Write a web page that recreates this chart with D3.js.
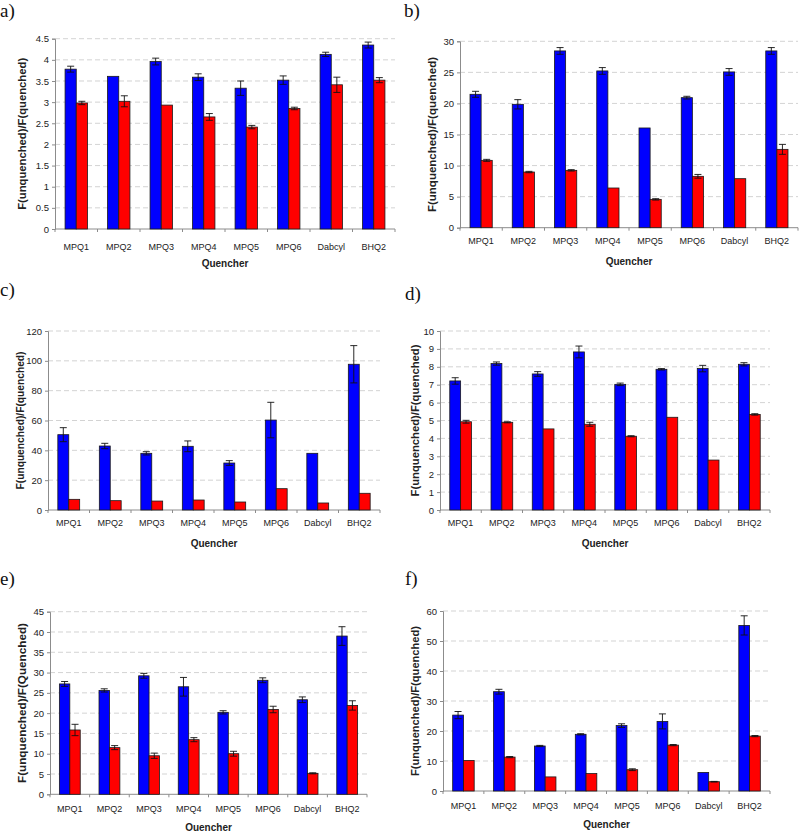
<!DOCTYPE html>
<html>
<head>
<meta charset="utf-8">
<script src="https://cdn.jsdelivr.net/npm/d3@7"></script>
<style>
body { margin: 0; background: #fff; }
svg { display: block; }
</style>
</head>
<body>
<svg id="chart" width="800" height="831"></svg>
<script>
const categories = ["MPQ1", "MPQ2", "MPQ3", "MPQ4", "MPQ5", "MPQ6", "Dabcyl", "BHQ2"];

const aBlue = [3.78, 3.61, 3.96, 3.59, 3.33, 3.52, 4.13, 4.35];
const aBlueErr = [0.07, 0.0, 0.08, 0.08, 0.17, 0.10, 0.05, 0.07];
const aRed = [2.98, 3.02, 2.93, 2.65, 2.41, 2.85, 3.41, 3.52];
const aRedErr = [0.04, 0.13, 0.0, 0.08, 0.04, 0.03, 0.18, 0.06];

const bBlue = [21.47, 19.86, 28.45, 25.23, 16.05, 20.93, 25.07, 28.45];
const bBlueErr = [0.48, 0.75, 0.54, 0.54, 0.0, 0.22, 0.54, 0.54];
const bRed = [10.84, 8.96, 9.23, 6.39, 4.56, 8.27, 7.89, 12.61];
const bRedErr = [0.16, 0.11, 0.11, 0.0, 0.11, 0.3, 0.0, 0.8];

const cBlue = [50.5, 42.9, 38.0, 42.7, 31.5, 60.3, 38.0, 97.7];
const cBlueErr = [4.7, 1.8, 1.1, 3.6, 1.6, 11.9, 0.0, 12.5];
const cRed = [7.15, 6.26, 6.0, 6.7, 5.36, 14.3, 4.7, 11.2];
const cRedErr = [0, 0, 0, 0, 0, 0, 0, 0];

const dBlue = [7.21, 8.18, 7.60, 8.83, 7.02, 7.86, 7.90, 8.14];
const dBlueErr = [0.18, 0.09, 0.13, 0.33, 0.07, 0.04, 0.18, 0.09];
const dRed = [4.93, 4.90, 4.53, 4.79, 4.12, 5.18, 2.79, 5.34];
const dRedErr = [0.08, 0.03, 0.0, 0.11, 0.03, 0.0, 0.0, 0.04];

const eBlue = [27.2, 25.6, 29.2, 26.5, 20.2, 28.1, 23.3, 39.0];
const eBlueErr = [0.6, 0.4, 0.6, 2.3, 0.4, 0.6, 0.7, 2.3];
const eRed = [15.85, 11.5, 9.5, 13.46, 10.0, 20.9, 5.17, 21.9];
const eRedErr = [1.4, 0.5, 0.65, 0.5, 0.6, 0.8, 0.13, 1.15];

const fBlue = [25.3, 33.1, 15.0, 18.9, 21.8, 23.2, 6.2, 55.2];
const fBlueErr = [1.2, 0.8, 0.2, 0.2, 0.6, 2.5, 0.0, 3.2];
const fRed = [10.2, 11.3, 4.7, 5.8, 7.1, 15.3, 3.1, 18.3];
const fRedErr = [0.0, 0.2, 0.0, 0.0, 0.3, 0.2, 0.1, 0.2];

const yTitles = ["F(unquenched)/F(quenched)", "F(unquenched)/F(quenched)", "F(unquenched)/F(quenched)",
                 "F(unquenched)/F(quenched)", "F(unquenched)/F(Quenched)", "F(unquenched)/F(quenched)"];
const panelLetters = ["a)", "b)", "c)", "d)", "e)", "f)"];
const yMaxes = [4.5, 30, 120, 10, 45, 60];
const ySteps = [0.5, 5, 20, 1, 5, 10];
const xTitle = "Quencher";

const seriesData = [
  [aBlue, aBlueErr, aRed, aRedErr],
  [bBlue, bBlueErr, bRed, bRedErr],
  [cBlue, cBlueErr, cRed, cRedErr],
  [dBlue, dBlueErr, dRed, dRedErr],
  [eBlue, eBlueErr, eRed, eRedErr],
  [fBlue, fBlueErr, fRed, fRedErr]
];

// Layout (pixels)
const layouts = [
  {x0: 55, x1: 395, yTop: 38.7, yBot: 229, letterX: 0, letterY: 17, labY: 247, qY: 263, tX: 22, tLen: 152},
  {x0: 460, x1: 798, yTop: 41.3, yBot: 227.7, letterX: 404, letterY: 17, labY: 241, qY: 261, tX: 432, tLen: 155},
  {x0: 48, x1: 380, yTop: 331, yBot: 510, letterX: 0, letterY: 296, labY: 523, qY: 543, tX: 20, tLen: 138},
  {x0: 440, x1: 770, yTop: 331, yBot: 510, letterX: 405, letterY: 300, labY: 523, qY: 543, tX: 415, tLen: 152},
  {x0: 50, x1: 367, yTop: 611.7, yBot: 794.3, letterX: 0, letterY: 585, labY: 808.5, qY: 827, tX: 22, tLen: 160},
  {x0: 443, x1: 770, yTop: 611, yBot: 791, letterX: 405, letterY: 585, labY: 805.5, qY: 824, tX: 415, tLen: 150}
];

const svg = d3.select("#chart");
const axisColor = "#8c8c8c";

layouts.forEach((L, i) => {
  const [blue, blueErr, red, redErr] = seriesData[i];
  const g = svg.append("g");
  const x = d3.scaleBand().domain(categories).range([L.x0, L.x1]);
  const y = d3.scaleLinear().domain([0, yMaxes[i]]).range([L.yBot, L.yTop]);
  const ticks = d3.range(0, yMaxes[i] + ySteps[i] / 2, ySteps[i]);

  // gridlines
  g.selectAll(".grid").data(ticks.filter(t => t > 0)).enter().append("line")
    .attr("x1", L.x0).attr("x2", L.x1)
    .attr("y1", d => y(d)).attr("y2", d => y(d))
    .attr("stroke", "#c8c8c8").attr("stroke-width", 0.8).attr("stroke-dasharray", "5,3");

  // y axis
  const yAxis = d3.axisLeft(y).tickValues(ticks).tickSize(3).tickPadding(3)
    .tickFormat(d => d3.format("~g")(+d.toFixed(2)));
  const ya = g.append("g").attr("transform", `translate(${L.x0},0)`).call(yAxis);
  ya.select(".domain").attr("stroke", axisColor);
  ya.selectAll(".tick line").attr("stroke", axisColor);
  ya.selectAll(".tick text").attr("font-family", "Liberation Sans, Arial, sans-serif")
    .attr("font-size", 9.5).attr("fill", "#222");

  // x axis line and ticks between categories
  g.append("line").attr("x1", L.x0).attr("x2", L.x1).attr("y1", L.yBot).attr("y2", L.yBot)
    .attr("stroke", axisColor);
  const bw = x.bandwidth();
  g.selectAll(".xt").data(d3.range(categories.length + 1)).enter().append("line")
    .attr("x1", d => L.x0 + d * bw).attr("x2", d => L.x0 + d * bw)
    .attr("y1", L.yBot).attr("y2", L.yBot + 3).attr("stroke", axisColor);

  // category labels
  g.selectAll(".xl").data(categories).enter().append("text")
    .attr("x", d => x(d) + bw / 2).attr("y", L.labY).attr("dy", "0.35em")
    .attr("text-anchor", "middle").attr("font-family", "Liberation Sans, Arial, sans-serif")
    .attr("font-size", 9).attr("fill", "#222").text(d => d);

  // bars
  const gw = bw / 1.9;
  const sub = d3.scaleBand().domain(["blue", "red"]).range([0, gw]);
  const rows = categories.map((c, k) => ({c, blue: blue[k], be: blueErr[k], red: red[k], re: redErr[k]}));
  const series = [
    {key: "blue", color: "#0000ff", v: r => r.blue, e: r => r.be},
    {key: "red", color: "#ff0000", v: r => r.red, e: r => r.re}
  ];
  series.forEach(s => {
    const bx = r => x(r.c) + (bw - gw) / 2 + sub(s.key);
    g.selectAll(".bar-" + s.key).data(rows).enter().append("rect")
      .attr("x", bx).attr("width", sub.bandwidth())
      .attr("y", r => y(s.v(r))).attr("height", r => L.yBot - y(s.v(r)))
      .attr("fill", s.color).attr("stroke", "#1a1a1a").attr("stroke-width", 0.8);
    const withErr = rows.filter(r => s.e(r) > 0);
    const cx = r => bx(r) + sub.bandwidth() / 2;
    g.selectAll(".err-" + s.key).data(withErr).enter().append("path")
      .attr("d", r => {
        const c = cx(r), t = y(s.v(r) + s.e(r)), b = y(s.v(r) - s.e(r)), h = 3.5;
        return `M${c},${t}V${b}M${c - h},${t}H${c + h}M${c - h},${b}H${c + h}`;
      })
      .attr("stroke", "#111").attr("stroke-width", 0.9).attr("fill", "none");
  });

  // titles
  g.append("text").attr("x", (L.x0 + L.x1) / 2).attr("y", L.qY).attr("dy", "0.35em")
    .attr("text-anchor", "middle").attr("font-family", "Liberation Sans, Arial, sans-serif")
    .attr("font-weight", "bold").attr("font-size", 10).attr("fill", "#222").text(xTitle);

  const yc = (L.yTop + L.yBot) / 2;
  g.append("text").attr("transform", `translate(${L.tX},${yc}) rotate(-90)`)
    .attr("text-anchor", "middle").attr("dy", "0.35em")
    .attr("font-family", "Liberation Sans, Arial, sans-serif")
    .attr("font-weight", "bold").attr("font-size", 10).attr("fill", "#222")
    .attr("textLength", L.tLen).attr("lengthAdjust", "spacingAndGlyphs")
    .text(yTitles[i]);

  g.append("text").attr("x", L.letterX).attr("y", L.letterY)
    .attr("font-family", "Liberation Serif, Times New Roman, serif")
    .attr("font-size", 19).attr("fill", "#111").text(panelLetters[i]);
});
</script>
</body>
</html>
